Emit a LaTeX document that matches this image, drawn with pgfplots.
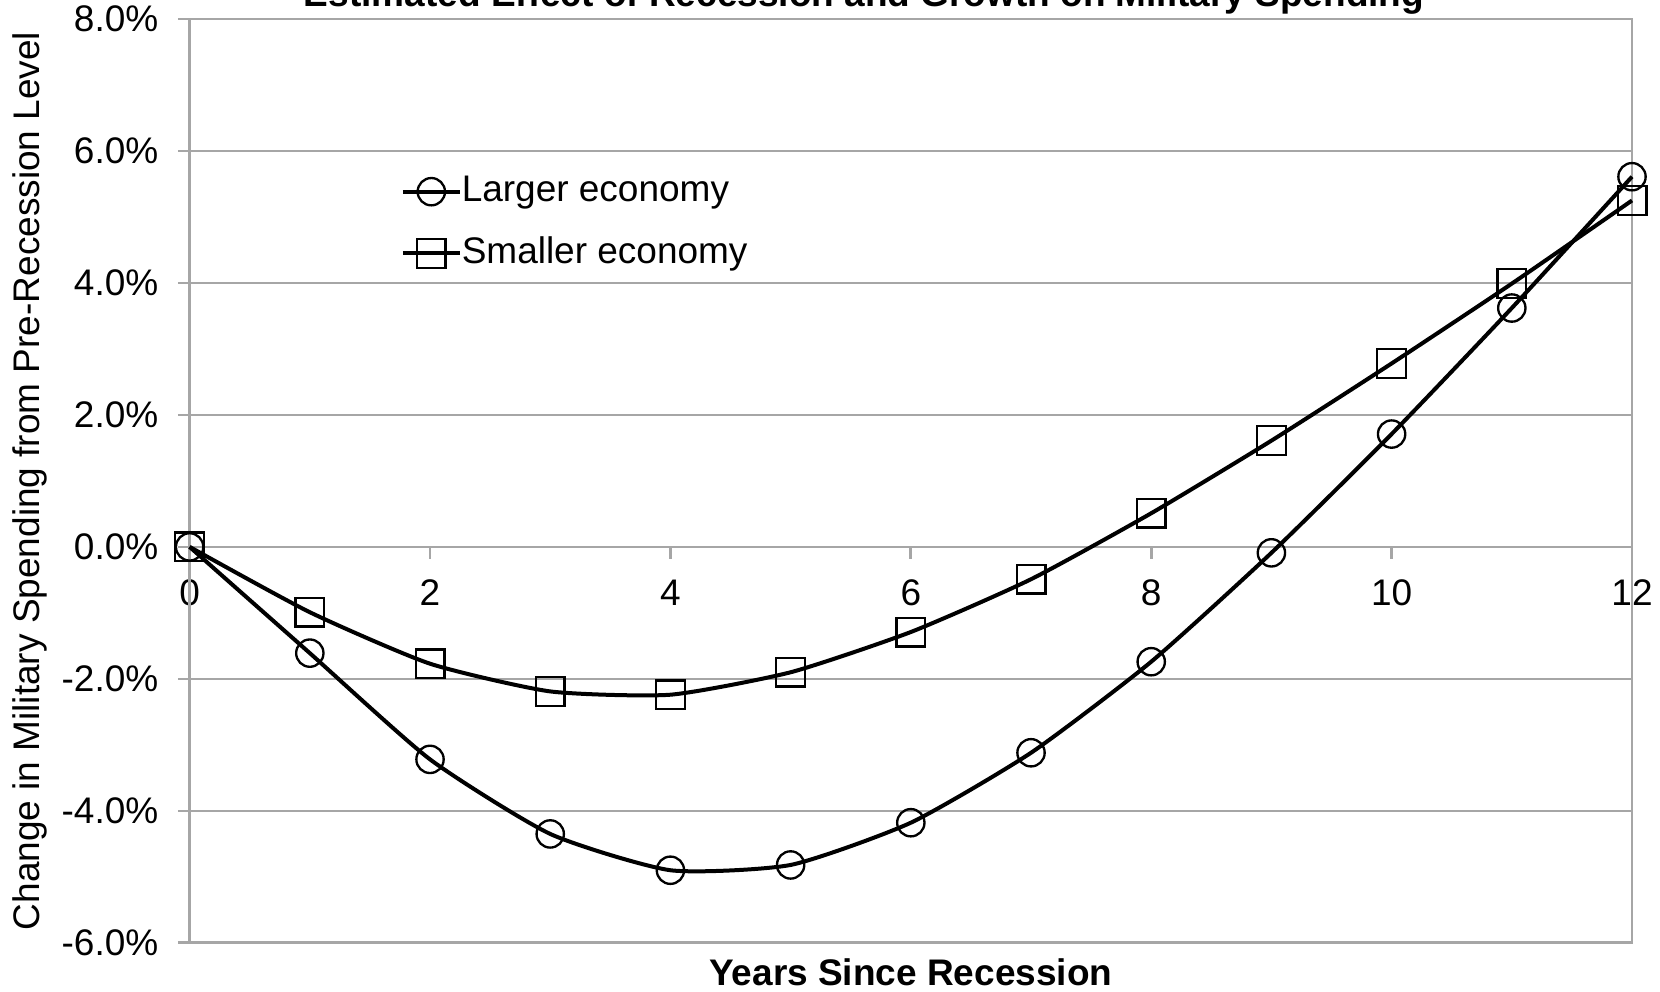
\documentclass[border=0pt]{standalone}
\usepackage{pgfplots}
\pgfplotsset{compat=1.18}
\usepackage{fontspec}
\setmainfont{Liberation Sans}
\definecolor{gridgray}{RGB}{166,166,166}
\begin{document}
\fontsize{11.1}{13}\selectfont
\begin{tikzpicture}
\begin{axis}[
  at={(0,0)}, anchor=south west,
  scale only axis, width=432.8pt, height=277.2pt,
  xmin=0, xmax=12, ymin=-6, ymax=8,
  axis x line=middle, axis y line=left,
  axis line style={-, draw=gridgray, line width=0.8pt},
  xtick={0,2,...,12}, ytick={-6,-4,...,8},
  hide obscured x ticks=false, hide obscured y ticks=false,
  tick align=outside, major tick length=3.5pt,
  tick style={draw=gridgray, line width=0.8pt},
  ymajorgrids, grid style={draw=gridgray, line width=0.8pt},
  /pgf/number format/assume math mode=true,
  yticklabel={\pgfmathprintnumber[fixed,fixed zerofill,precision=1]{\tick}\%},
  x tick label style={yshift=-2.5pt},
  y tick label style={xshift=-2pt},
  title={Estimated Effect of Recession and Growth on Military Spending},
  every axis title/.style={at={(axis description cs:0.4676,1)}, anchor=base, yshift=3.8pt, font=\bfseries},
  xlabel={Years Since Recession},
  every axis x label/.style={at={(axis description cs:0.5,-0.0314)}, anchor=center, font=\bfseries},
  ylabel={Change in Military Spending from Pre-Recession Level},
  every axis y label/.style={at={(axis description cs:-0.111,0.5)}, rotate=90, anchor=center},
  legend style={at={(axis description cs:0.146,0.845)}, anchor=north west, draw=none, fill=none, row sep=5pt, inner xsep=0pt, nodes={inner xsep=0pt}},
  legend cell align=left,
  clip=false,
]
\draw[gridgray, line width=0.8pt] (rel axis cs:0,0) rectangle (rel axis cs:1,1);
\addplot[black, line width=1.2pt, smooth, tension=0.35, mark=o, mark size=4.1pt, mark options={line width=0.7pt, fill=none}] coordinates {
(0,0) (1,-1.61) (2,-3.22) (3,-4.35) (4,-4.90) (5,-4.82) (6,-4.18) (7,-3.12) (8,-1.74) (9,-0.09) (10,1.71) (11,3.62) (12,5.61)};
\addlegendentry{Larger economy}
\addplot[black, line width=1.2pt, smooth, tension=0.35, mark=square, mark size=4.3pt, mark options={line width=0.7pt, fill=none}] coordinates {
(0,0) (1,-0.99) (2,-1.77) (3,-2.19) (4,-2.24) (5,-1.90) (6,-1.29) (7,-0.49) (8,0.51) (9,1.61) (10,2.78) (11,3.99) (12,5.25)};
\addlegendentry{Smaller economy}
\end{axis}
\pgfresetboundingbox
\useasboundingbox (-56.9pt,-14.7pt) rectangle (441.2pt,282.9pt);
\end{tikzpicture}
\end{document}
